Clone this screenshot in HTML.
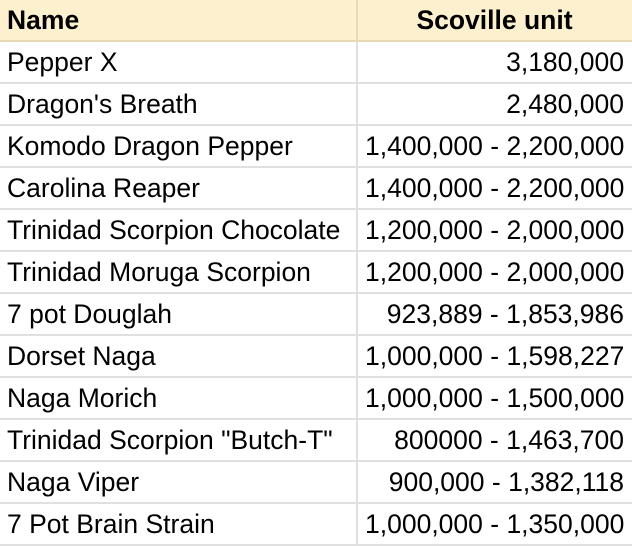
<!DOCTYPE html>
<html><head><meta charset="utf-8"><style>
body{margin:0;width:632px;height:546px;background:#fff;overflow:hidden;font-family:"Liberation Sans",Arial,sans-serif;}
table{border-collapse:collapse;position:absolute;left:0;top:0;width:632px;table-layout:fixed;}
td,th{height:40px;padding:0 8px 0 7px;font-size:26.5px;color:#000;border-bottom:2px solid #e0e0e0;white-space:nowrap;line-height:40px;overflow:visible;}
th{background:#fcf0cf;font-weight:bold;border-bottom-color:#e8dbb3;}
td.n,th.n{border-right:2px solid #e0e0e0;text-align:left;width:341px;}
th.n{border-right-color:#e8dbb3;}
td.v{text-align:right;}
th.v{text-align:center;}
</style></head><body>
<table>
<tr><th class="n">Name</th><th class="v">Scoville unit</th></tr>
<tr><td class="n">Pepper X</td><td class="v">3,180,000</td></tr>
<tr><td class="n">Dragon's Breath</td><td class="v">2,480,000</td></tr>
<tr><td class="n">Komodo Dragon Pepper</td><td class="v">1,400,000 - 2,200,000</td></tr>
<tr><td class="n">Carolina Reaper</td><td class="v">1,400,000 - 2,200,000</td></tr>
<tr><td class="n">Trinidad Scorpion Chocolate</td><td class="v">1,200,000 - 2,000,000</td></tr>
<tr><td class="n">Trinidad Moruga Scorpion</td><td class="v">1,200,000 - 2,000,000</td></tr>
<tr><td class="n">7 pot Douglah</td><td class="v">923,889 - 1,853,986</td></tr>
<tr><td class="n">Dorset Naga</td><td class="v">1,000,000 - 1,598,227</td></tr>
<tr><td class="n">Naga Morich</td><td class="v">1,000,000 - 1,500,000</td></tr>
<tr><td class="n">Trinidad Scorpion "Butch-T"</td><td class="v">800000 - 1,463,700</td></tr>
<tr><td class="n">Naga Viper</td><td class="v">900,000 - 1,382,118</td></tr>
<tr><td class="n">7 Pot Brain Strain</td><td class="v">1,000,000 - 1,350,000</td></tr>
</table>
</body></html>
